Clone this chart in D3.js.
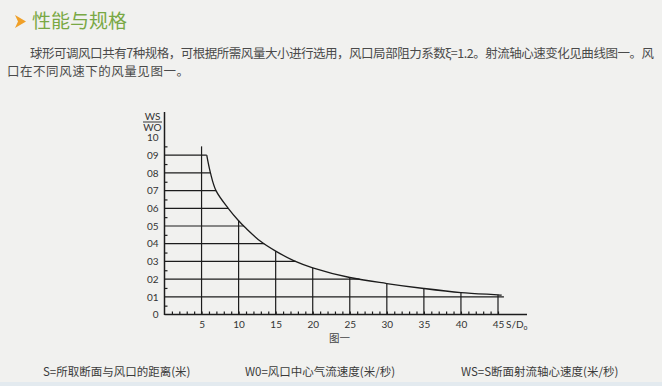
<!DOCTYPE html>
<html>
<head>
<meta charset="utf-8">
<script src="https://cdn.jsdelivr.net/npm/d3@7"></script>
<style>
body { margin: 0; background: #f1f1ef; }
svg { display: block; }
</style>
</head>
<body>
<svg id="chart" width="662" height="386"></svg>
<script>
// curve: S/D0 against WS/WO
var curveX = [5.7, 6.2, 6.95, 8.6, 10, 11, 13, 15, 17.5, 20, 25, 30, 35, 40, 45, 45.5],
	curveY = [0.9, 0.8, 0.7, 0.6, 0.53, 0.487, 0.412, 0.358, 0.303, 0.264, 0.209, 0.175, 0.147, 0.124, 0.111, 0.109],
	yTicks = [0, 0.1, 0.2, 0.3, 0.4, 0.5, 0.6, 0.7, 0.8, 0.9, 1.0],
	yTickLabels = ['0', '01', '02', '03', '04', '05', '06', '07', '08', '09', '10'],
	yMinor = [0.05, 0.15, 0.25, 0.35, 0.45, 0.55, 0.65, 0.75, 0.85, 0.95],
	xTicks = [5, 10, 15, 20, 25, 30, 35, 40, 45],
	xMinor = d3.range(1, 46),
	hGrid = [0.1, 0.2, 0.3, 0.4, 0.5, 0.6, 0.7, 0.8, 0.9],
	vGrid = [5, 10, 15, 20, 25, 30, 35, 40, 45],
	para1 = '球形可调风口共有7种规格，可根据所需风量大小进行选用，风口局部阻力系数ξ=1.2。射流轴心速变化见曲线图一。风',
	para2 = '口在不同风速下的风量见图一。',
	notes = ['S=所取断面与风口的距离(米)', 'W0=风口中心气流速度(米/秒)', 'WS=S断面射流轴心速度(米/秒)'];

var svg = d3.select('#chart'),
	cjk = '"Noto Sans CJK SC", "Noto Sans", sans-serif',
	lab = 'Lato, "DejaVu Sans", sans-serif',
	ink = '#1c1c1c';

svg.append('rect').attr('width', 662).attr('height', 386).attr('fill', '#f1f1ef');
svg.append('rect').attr('y', 382).attr('width', 662).attr('height', 4).attr('fill', '#e3eaef');

// heading
svg.append('path').attr('d', 'M15,15 L26,21.5 L15,28 L18,21.5 Z').attr('fill', '#f0a028');
svg.append('text').attr('x', 32).attr('y', 28).text('性能与规格')
	.style('font-family', cjk).style('font-size', '19px').attr('fill', '#79a844');

svg.append('text').attr('x', 30).attr('y', 58).text(para1)
	.attr('textLength', 624).attr('lengthAdjust', 'spacing')
	.style('font-family', cjk).style('font-size', '12.5px').attr('fill', '#4a4a4a');
svg.append('text').attr('x', 7).attr('y', 76).text(para2)
	.attr('textLength', 182).attr('lengthAdjust', 'spacing')
	.style('font-family', cjk).style('font-size', '12.5px').attr('fill', '#4a4a4a');

var x = d3.scaleLinear().domain([0, 45]).range([164.5, 498]),
	y = d3.scaleLinear().domain([0, 1]).range([314.5, 137.5]);

var pts = curveX.map(function(d, i) { return [d, curveY[i]] });

function xAt(v) {
	for (var i = 0; i < pts.length - 1; i++) {
		if (v <= pts[i][1] && v >= pts[i + 1][1]) {
			var t = (pts[i][1] - v) / (pts[i][1] - pts[i + 1][1]);
			return pts[i][0] + t * (pts[i + 1][0] - pts[i][0]);
		}
	}
	return 45.8;
}

function yAt(v) {
	if (v <= pts[0][0]) return 0.95;
	for (var i = 0; i < pts.length - 1; i++) {
		if (v >= pts[i][0] && v <= pts[i + 1][0]) {
			var t = (v - pts[i][0]) / (pts[i + 1][0] - pts[i][0]);
			return pts[i][1] + t * (pts[i + 1][1] - pts[i][1]);
		}
	}
	return pts[pts.length - 1][1];
}

var g = svg.append('g');

// grid
g.selectAll('.hg').data(hGrid).enter().append('line')
	.attr('x1', x(0)).attr('x2', function(d) { return x(xAt(d)) })
	.attr('y1', function(d) { return y(d) }).attr('y2', function(d) { return y(d) })
	.attr('stroke', ink).attr('stroke-width', 1.2);
g.selectAll('.vg').data(vGrid).enter().append('line')
	.attr('x1', function(d) { return x(d) }).attr('x2', function(d) { return x(d) })
	.attr('y1', y(0)).attr('y2', function(d) { return y(yAt(d)) })
	.attr('stroke', ink).attr('stroke-width', 1.2);

// decay curve
var line = d3.line().x(function(d) { return x(d[0]) }).y(function(d) { return y(d[1]) })
	.curve(d3.curveCatmullRom.alpha(0.5));
g.append('path').datum(pts).attr('d', line)
	.attr('fill', 'none').attr('stroke', ink).attr('stroke-width', 1.3);

// axes
var yAxis = g.append('g').attr('transform', 'translate(' + x(0) + ',0)')
	.call(d3.axisLeft(y).tickValues(yTicks).tickSize(0).tickPadding(6)
		.tickFormat(function(d, i) { return yTickLabels[i] }));
yAxis.select('.domain').remove();
g.append('g').attr('transform', 'translate(' + x(0) + ',0)')
	.call(d3.axisRight(y).tickValues(yMinor).tickSize(3).tickFormat(''))
	.select('.domain').remove();

var xAxis = g.append('g').attr('transform', 'translate(0,' + y(0) + ')')
	.call(d3.axisBottom(x).tickValues(xTicks).tickSize(0).tickPadding(6));
xAxis.select('.domain').remove();
g.append('g').attr('transform', 'translate(0,' + y(0) + ')')
	.call(d3.axisTop(x).tickValues(xMinor).tickSize(3).tickFormat(''))
	.select('.domain').remove();

g.selectAll('.tick line').attr('stroke', ink).attr('stroke-width', 1.2);
g.selectAll('.tick text').style('font-family', lab).style('font-size', '10px').attr('fill', '#333');

g.append('line').attr('x1', x(0)).attr('x2', x(0)).attr('y1', y(0) + 0.5).attr('y2', 112)
	.attr('stroke', ink).attr('stroke-width', 1.5);
g.append('line').attr('x1', x(0)).attr('x2', 527).attr('y1', y(0)).attr('y2', y(0))
	.attr('stroke', ink).attr('stroke-width', 1.5);

// axis titles
g.append('text').attr('x', 152.5).attr('y', 120).attr('text-anchor', 'middle').text('WS')
	.style('font-family', lab).style('font-size', '10px').attr('fill', '#333');
g.append('line').attr('x1', 143).attr('x2', 162).attr('y1', 122).attr('y2', 122)
	.attr('stroke', '#333').attr('stroke-width', 1);
g.append('text').attr('x', 152.5).attr('y', 130.5).attr('text-anchor', 'middle').text('WO')
	.style('font-family', lab).style('font-size', '10px').attr('fill', '#333');
var sd = g.append('text').attr('x', 506).attr('y', 328)
	.style('font-family', lab).style('font-size', '10px').attr('fill', '#333');
sd.append('tspan').text('S/D');
sd.append('tspan').attr('dy', 2).style('font-size', '7px').text('o');

g.append('text').attr('x', 329).attr('y', 342).text('图一')
	.style('font-family', cjk).style('font-size', '10.5px').attr('fill', '#444');

// footnotes
var noteX = [43, 245, 461];
svg.selectAll('.note').data(notes).enter().append('text')
	.attr('x', function(d, i) { return noteX[i] }).attr('y', 376)
	.text(function(d) { return d })
	.style('font-family', cjk).style('font-size', '11.5px').attr('fill', '#3a3a3a');
</script>
</body>
</html>
